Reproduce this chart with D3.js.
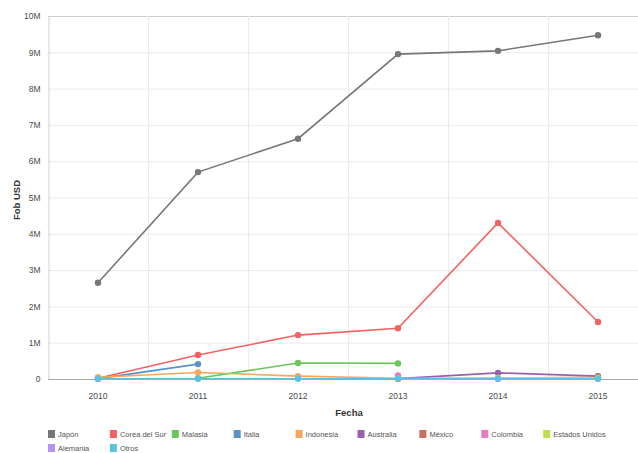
<!DOCTYPE html>
<html>
<head>
<meta charset="utf-8">
<script src="https://cdn.jsdelivr.net/npm/d3@7"></script>
<style>
  html, body { margin: 0; padding: 0; background: #fff; }
  svg { display: block; font-family: "Liberation Sans", Arial, sans-serif; }
</style>
</head>
<body>
<svg id="chart" width="638" height="453"></svg>
<script>
// Years on the x axis
const years = ["2010", "2011", "2012", "2013", "2014", "2015"];

// FOB exports in millions of USD per destination (null = no data)
const japon         = [2.65, 5.70, 6.62, 8.95, 9.04, 9.47];
const coreaDelSur   = [0.02, 0.66, 1.21, 1.40, 4.30, 1.57];
const malasia       = [null, 0.02, 0.44, 0.43, null, null];
const italia        = [0.01, 0.41, null, null, null, null];
const indonesia     = [0.05, 0.18, 0.08, 0.02, 0.01, 0.01];
const australia     = [null, null, null, 0.01, 0.17, 0.08];
const mexico        = [null, null, null, null, 0.02, 0.05];
const colombia      = [null, null, null, 0.10, null, null];
const estadosUnidos = [null, null, null, 0.01, 0.03, 0.03];
const alemania      = [null, null, null, null, null, null];
const otros         = [0.005, 0.005, 0.005, 0.005, 0.005, 0.005];

const seriesNames = ["Japón", "Corea del Sur", "Malasia", "Italia", "Indonesia", "Australia",
                     "México", "Colombia", "Estados Unidos", "Alemania", "Otros"];
const seriesValues = [japon, coreaDelSur, malasia, italia, indonesia, australia,
                      mexico, colombia, estadosUnidos, alemania, otros];
const seriesColors = ["#777777", "#f26262", "#6cc45c", "#5b93c9", "#f8a55e", "#9c5fb0",
                      "#c9705a", "#e77bc0", "#bde04e", "#b592f5", "#5bc2e0"];

const yTicks = [0, 1, 2, 3, 4, 5, 6, 7, 8, 9, 10];

const svg = d3.select("#chart");
const margin = { left: 48, top: 16, bottom: 379 };
const plotRight = 648;

const x = d3.scaleBand().domain(years).range([margin.left, plotRight]);
const y = d3.scaleLinear().domain([0, 10]).range([margin.bottom, margin.top]);

// Gridlines
const g = svg.append("g");
g.selectAll("line.hgrid").data(yTicks.slice(1)).join("line")
  .attr("x1", margin.left).attr("x2", 638)
  .attr("y1", d => y(d) + 0.5).attr("y2", d => y(d) + 0.5)
  .attr("stroke", d => d === 10 ? "#cfcfcf" : "#ebebeb").attr("stroke-width", 1);
g.selectAll("line.vgrid").data(years.slice(1)).join("line")
  .attr("x1", d => Math.round(x(d)) + 0.5).attr("x2", d => Math.round(x(d)) + 0.5)
  .attr("y1", margin.top).attr("y2", margin.bottom)
  .attr("stroke", "#ebebeb").attr("stroke-width", 1);

// Y axis
const yAxis = svg.append("g")
  .attr("transform", `translate(${margin.left + 0.5},0)`)
  .call(d3.axisLeft(y).tickValues(yTicks).tickSize(0).tickPadding(8)
    .tickFormat(d => d === 0 ? "0" : d + "M"));
yAxis.select(".domain").attr("stroke", "#d0d0d0");
yAxis.selectAll("text").attr("fill", "#4a4a4a").style("font-size", "8.5px")
  .style("font-family", "Liberation Sans, Arial, sans-serif");

// X axis
const xAxis = svg.append("g")
  .attr("transform", `translate(0,${margin.bottom + 0.5})`)
  .call(d3.axisBottom(x).tickSize(0).tickPadding(13));
xAxis.select(".domain").attr("stroke", "#a8a8a8").attr("d", `M${margin.left},0H638`);
xAxis.selectAll("text").attr("fill", "#4a4a4a").style("font-size", "8.5px")
  .style("font-family", "Liberation Sans, Arial, sans-serif");

// Axis titles
svg.append("text").attr("x", 349).attr("y", 416).attr("text-anchor", "middle")
  .attr("font-size", 9.5).attr("font-weight", "bold").attr("fill", "#333").text("Fecha");
svg.append("text").attr("transform", "translate(20,200) rotate(-90)").attr("text-anchor", "middle")
  .attr("font-size", 9.5).attr("font-weight", "bold").attr("fill", "#333").text("Fob USD");

// Series lines and markers
const line = d3.line()
  .defined(d => d.v !== null)
  .x(d => x(d.year) + x.bandwidth() / 2)
  .y(d => y(d.v));

seriesValues.forEach((vals, i) => {
  const pts = vals.map((v, j) => ({ year: years[j], v }));
  svg.append("path").datum(pts)
    .attr("d", line).attr("fill", "none")
    .attr("stroke", seriesColors[i]).attr("stroke-width", 1.6);
  svg.append("g").selectAll("circle").data(pts.filter(d => d.v !== null)).join("circle")
    .attr("cx", d => x(d.year) + x.bandwidth() / 2)
    .attr("cy", d => y(d.v))
    .attr("r", 3.2).attr("fill", seriesColors[i]);
});

// Legend
const legend = svg.append("g");
seriesNames.forEach((name, i) => {
  const col = i % 9, row = Math.floor(i / 9);
  const lx = 48 + col * 61.9, ly = 430 + row * 14;
  legend.append("rect").attr("x", lx).attr("y", ly).attr("width", 7).attr("height", 8)
    .attr("fill", seriesColors[i]);
  legend.append("text").attr("x", lx + 10).attr("y", ly + 7)
    .attr("font-size", 7.5).attr("fill", "#555").text(name);
});
</script>
</body>
</html>
